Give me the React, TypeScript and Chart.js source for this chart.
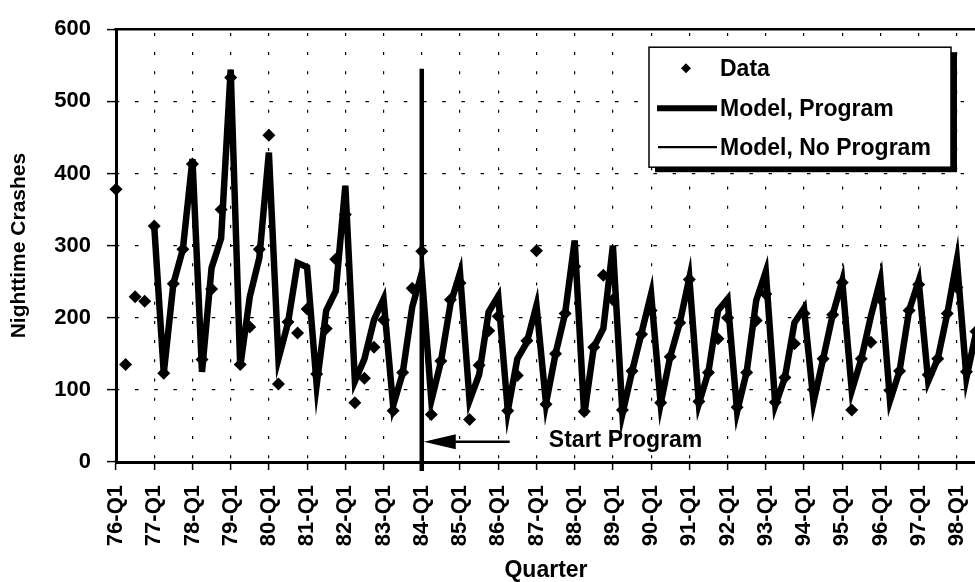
import React, { useEffect, useRef } from 'react';
import { Chart, registerables } from 'chart.js';

Chart.register(...registerables);

// ---- data ----
const yearCodes = ['76','77','78','79','80','81','82','83','84','85','86','87','88','89','90','91','92','93','94','95','96','97','98'];
const quarterCodes = ['Q1','Q2','Q3','Q4'];
const lastQuarterLabel = '98-Q3';

const allQuarters: string[] = [];
yearCodes.forEach((yy) => quarterCodes.forEach((q) => allQuarters.push(`${yy}-${q}`)));
const quarterLabels = allQuarters.slice(0, allQuarters.indexOf(lastQuarterLabel) + 1);

const crashData = [
  378, 135, 229, 223,
  327, 123, 247, 295,
  413, 142, 240, 350,
  533, 135, 187, 295,
  453, 108, 194, 179,
  212, 122, 185, 281,
  343, 82, 116, 159,
  197, 71, 124, 241,
  292, 66, 140, 225,
  248, 59, 134, 182,
  202, 71, 120, 168,
  293, 80, 150, 206,
  271, 70, 159, 259,
  225, 72, 126, 177,
  210, 82, 146, 193,
  253, 84, 124, 171,
  200, 76, 124, 196,
  233, 83, 117, 164,
  206, 100, 143, 204,
  249, 72, 143, 166,
  226, 99, 126, 210,
  246, 121, 143, 206,
  242, 125, 181,
];

const modelProgram = [
  null, null, null, null,
  327, 123, 247, 295,
  420, 125, 269, 310,
  544, 132, 229, 283,
  429, 143, 193, 276,
  270, 107, 210, 237,
  383, 112, 143, 197,
  226, 78, 123, 215,
  262, 85, 139, 219,
  262, 85, 121, 208,
  230, 71, 143, 166,
  217, 81, 150, 206,
  307, 65, 159, 185,
  300, 67, 125, 179,
  233, 81, 146, 193,
  255, 81, 125, 210,
  226, 70, 125, 224,
  264, 79, 117, 193,
  213, 83, 143, 204,
  251, 99, 143, 202,
  253, 85, 126, 210,
  251, 112, 143, 206,
  280, 117, 179,
];

const modelNoProgram = [
  null, null, null, null,
  327, 123, 247, 295,
  420, 125, 269, 310,
  544, 132, 229, 283,
  429, 143, 193, 276,
  270, 107, 210, 237,
  383, 112, 143, 197,
  226, 78, 123, 215,
  262, 85, 139, 219,
  262, 85, 121, 208,
  230, 71, 143, 166,
  217, 81, 150, 206,
  307, 65, 159, 185,
  300, 67, 125, 179,
  233, 81, 146, 193,
  255, 81, 125, 210,
  226, 70, 125, 224,
  264, 79, 117, 193,
  213, 83, 143, 204,
  251, 99, 143, 202,
  253, 85, 126, 210,
  251, 112, 143, 206,
  280, 117, 179,
];

const yMin = 0;
const yMax = 600;
const yStep = 100;

const seriesNames = ['Data', 'Model, Program', 'Model, No Program'];
const xTitle = 'Quarter';
const yTitle = 'Nighttime Crashes';

// annotation (in data units)
const startLabel = '84-Q1';
const startLineTopValue = 545;
const arrowValue = 28;
const arrowTailIndex = 41.2;
const annotationText = 'Start Program';
const annotationTextIndex = 45.3;
const annotationTextValue = 30;

const FONT = "'Liberation Sans', Arial, Helvetica, sans-serif";

const overlayPlugin = {
  id: 'overlay',
  afterDatasetsDraw(chart: any) {
    const { ctx, chartArea, scales } = chart;
    const x = scales.x;
    const y = scales.y;
    ctx.save();
    ctx.strokeStyle = '#000';
    ctx.fillStyle = '#000';
    // top frame line
    ctx.lineWidth = 2.5;
    ctx.beginPath();
    ctx.moveTo(chartArea.left - 1.5, chartArea.top);
    ctx.lineTo(chartArea.right + 30, chartArea.top);
    ctx.stroke();

    // start program vertical line
    const sx = x.getPixelForValue(quarterLabels.indexOf(startLabel));
    ctx.lineWidth = 4.5;
    ctx.beginPath();
    ctx.moveTo(sx, y.getPixelForValue(startLineTopValue));
    ctx.lineTo(sx, chartArea.bottom + 9);
    ctx.stroke();

    // arrow
    const ay = y.getPixelForValue(arrowValue);
    const tailX = x.getPixelForValue(arrowTailIndex);
    const headX = sx + 2;
    ctx.lineWidth = 2.4;
    ctx.beginPath();
    ctx.moveTo(tailX, ay);
    ctx.lineTo(headX + 20, ay);
    ctx.stroke();
    ctx.beginPath();
    ctx.moveTo(headX, ay);
    ctx.lineTo(headX + 32, ay - 7.5);
    ctx.lineTo(headX + 32, ay + 7.5);
    ctx.closePath();
    ctx.fill();

    ctx.font = `bold 23px ${FONT}`;
    ctx.textAlign = 'left';
    ctx.textBaseline = 'middle';
    ctx.fillText(annotationText, x.getPixelForValue(annotationTextIndex), y.getPixelForValue(annotationTextValue));
    ctx.restore();
  },
  afterDraw(chart: any) {
    const { ctx, chartArea } = chart;
    ctx.save();
    const bw = 302;
    const bh = 120;
    const bx = chartArea.right - 327;
    const by = chartArea.top + 18;
    // shadow
    ctx.fillStyle = '#000';
    ctx.fillRect(bx + 6, by + 5, bw, bh);
    ctx.fillStyle = '#fff';
    ctx.fillRect(bx, by, bw, bh);
    ctx.strokeStyle = '#000';
    ctx.lineWidth = 1.5;
    ctx.strokeRect(bx, by, bw, bh);

    const textX = bx + 71;
    const rows = [by + 21, by + 61, by + 100];
    // diamond
    ctx.fillStyle = '#000';
    const dx = bx + 37;
    const dy = rows[0];
    const r = 5;
    ctx.beginPath();
    ctx.moveTo(dx, dy - r);
    ctx.lineTo(dx + r, dy);
    ctx.lineTo(dx, dy + r);
    ctx.lineTo(dx - r, dy);
    ctx.closePath();
    ctx.fill();
    // thick line
    ctx.strokeStyle = '#000';
    ctx.lineWidth = 6;
    ctx.beginPath();
    ctx.moveTo(bx + 8, rows[1]);
    ctx.lineTo(bx + 68, rows[1]);
    ctx.stroke();
    // thin line
    ctx.lineWidth = 2.2;
    ctx.beginPath();
    ctx.moveTo(bx + 9, rows[2]);
    ctx.lineTo(bx + 68, rows[2]);
    ctx.stroke();

    ctx.font = `bold 23px ${FONT}`;
    ctx.textAlign = 'left';
    ctx.textBaseline = 'middle';
    ctx.fillText(seriesNames[0], textX, rows[0] + 1);
    ctx.fillText(seriesNames[1], textX, rows[1] + 1);
    ctx.fillText(seriesNames[2], textX, rows[2] + 1);
    ctx.restore();
  },
};

export default function App() {
  const canvasRef = useRef<HTMLCanvasElement | null>(null);

  useEffect(() => {
    if (!canvasRef.current) return;
    Chart.defaults.font.family = FONT;
    Chart.defaults.color = '#000';
    const chart = new Chart(canvasRef.current, {
      type: 'line',
      data: {
        labels: quarterLabels,
        datasets: [
          {
            label: seriesNames[0],
            data: crashData,
            showLine: false,
            pointStyle: 'rectRot',
            pointRadius: 6.5,
            pointBackgroundColor: '#000',
            pointBorderColor: '#000',
            pointBorderWidth: 0,
            borderColor: '#000',
            backgroundColor: '#000',
            clip: false,
            order: 0,
          } as any,
          {
            label: seriesNames[1],
            data: modelProgram,
            borderColor: '#000',
            backgroundColor: '#000',
            borderWidth: 6.5,
            pointRadius: 0,
            tension: 0,
            clip: false,
            order: 1,
          } as any,
          {
            label: seriesNames[2],
            data: modelNoProgram,
            borderColor: '#000',
            backgroundColor: '#000',
            borderWidth: 2,
            pointRadius: 0,
            tension: 0,
            clip: false,
            order: 2,
          } as any,
        ],
      },
      options: {
        animation: false,
        responsive: true,
        maintainAspectRatio: false,
        layout: { padding: { top: 19, right: 14, bottom: 0, left: 0 } },
        plugins: {
          legend: { display: false },
          tooltip: { enabled: false },
          title: { display: false },
        },
        scales: {
          x: {
            type: 'category',
            offset: false,
            afterFit: (scale: any) => {
              scale.height = 120;
              scale.paddingLeft = 0;
              scale.paddingRight = 0;
            },
            grid: {
              color: (c: any) => (c.index % 4 === 0 ? '#000' : 'rgba(0,0,0,0)'),
              lineWidth: 1.2,
              drawTicks: true,
              tickLength: 8,
              tickWidth: 1.5,
              tickColor: (c: any) => (c.index % 4 === 0 ? '#000' : 'rgba(0,0,0,0)'),
              tickBorderDash: [],
            },
            border: { display: true, color: '#000', width: 3, dash: [3, 16.2], dashOffset: 15.5 },
            ticks: {
              autoSkip: false,
              maxRotation: 90,
              minRotation: 90,
              padding: 15,
              font: { size: 22, weight: 'bold' },
              callback: (_v: any, i: number) => (i % 4 === 0 ? quarterLabels[i] : ''),
            },
            title: {
              display: true,
              text: xTitle,
              font: { size: 23, weight: 'bold', lineHeight: 1 },
              padding: { top: 0, bottom: 0 },
            },
          },
          y: {
            type: 'linear',
            min: yMin,
            max: yMax,
            afterFit: (scale: any) => { scale.width = 116; },
            grid: {
              color: (c: any) => (c.tick && (c.tick.value === yMin || c.tick.value === yMax) ? 'rgba(0,0,0,0)' : '#000'),
              lineWidth: 1.2,
              drawTicks: true,
              tickLength: 9,
              tickWidth: 1.5,
              tickColor: '#000',
              tickBorderDash: [],
            },
            border: { display: true, color: '#000', width: 3, dash: [3.5, 15.7], dashOffset: 2.2 },
            ticks: {
              stepSize: yStep,
              padding: 16,
              font: { size: 22, weight: 'bold' },
            },
            title: {
              display: true,
              text: yTitle,
              font: { size: 21, weight: 'bold', lineHeight: 1 },
              padding: { top: 9, bottom: 0 },
            },
          },
        },
      },
      plugins: [overlayPlugin],
    });
    return () => chart.destroy();
  }, []);

  return (
    <div style={{ position: 'fixed', left: 0, top: 0, width: 975, height: 582, overflow: 'hidden', background: '#fff' }}>
      <div style={{ position: 'relative', width: 990, height: 582 }}>
        <canvas ref={canvasRef} />
      </div>
    </div>
  );
}
